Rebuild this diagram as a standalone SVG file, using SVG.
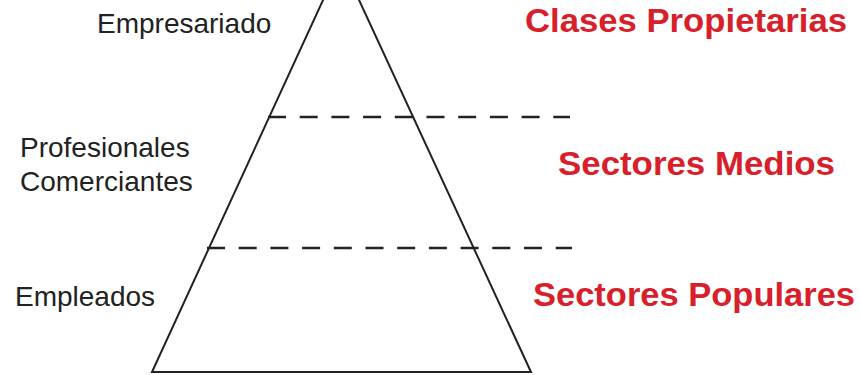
<svg xmlns="http://www.w3.org/2000/svg" width="861" height="375" viewBox="0 0 861 375">
<style>
.lbl{font-family:"Liberation Sans",Arial,sans-serif;font-size:28px;fill:#222}
.cls{font-family:"Liberation Sans",Arial,sans-serif;font-size:33px;font-weight:bold;fill:#d7202a}
.edge{stroke:#222;stroke-width:2;fill:none}
.dash{stroke:#222;stroke-width:2.5;stroke-dasharray:18 13.7;fill:none}
</style>
<rect width="861" height="375" fill="#fff"/>
<g id="pyramid">
<polygon class="edge" points="341,-39 152,372 531,372"/>
</g>
<g id="connectors">
<line class="dash" x1="268" y1="117" x2="570" y2="117"/>
<line class="dash" x1="207" y1="248" x2="572" y2="248"/>
</g>
<g id="empresariado"><text class="lbl" x="97" y="33">Empresariado</text></g>
<g id="profesionales"><text class="lbl" x="20" y="157">Profesionales</text><text class="lbl" x="20" y="191">Comerciantes</text></g>
<g id="empleados"><text class="lbl" x="15" y="306">Empleados</text></g>
<g id="clases"><text class="cls" x="525" y="32" textLength="322" lengthAdjust="spacingAndGlyphs">Clases Propietarias</text></g>
<g id="medios"><text class="cls" x="558" y="175" textLength="277" lengthAdjust="spacingAndGlyphs">Sectores Medios</text></g>
<g id="populares"><text class="cls" x="533" y="306" textLength="322" lengthAdjust="spacingAndGlyphs">Sectores Populares</text></g>
</svg>
